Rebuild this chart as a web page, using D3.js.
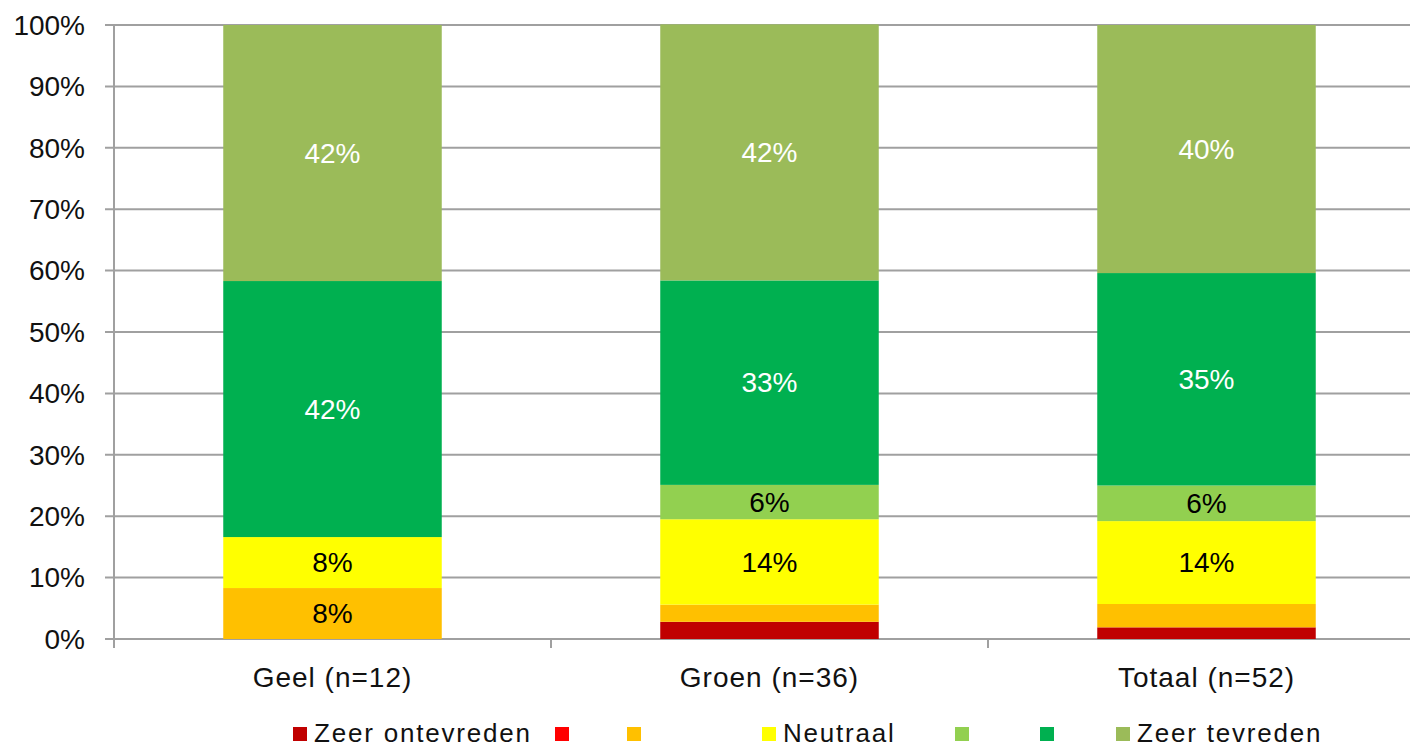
<!DOCTYPE html>
<html>
<head>
<meta charset="utf-8">
<script src="https://cdn.jsdelivr.net/npm/d3@7"></script>
<style>
  html, body { margin: 0; padding: 0; background: #fff; }
  svg { display: block; font-family: "Liberation Sans", Arial, sans-serif; }
</style>
</head>
<body>
<svg id="chart" width="1410" height="750"></svg>
<script>
// Categories (groups) and response levels
const categories = ["Geel (n=12)", "Groen (n=36)", "Totaal (n=52)"];
const seriesNames = ["Zeer ontevreden", "", "", "Neutraal", "", "", "Zeer tevreden"];
const seriesColors = ["#C00000", "#FF0000", "#FFC000", "#FFFF00", "#92D050", "#00B050", "#9BBB59"];
const labelColors = ["#000", "#000", "#000", "#000", "#000", "#fff", "#fff"];

// Percentages per response level, one value per category
const zeerOntevreden = [0, 2.8, 1.9];
const ontevreden     = [0, 0, 0];
const somwatOntevr   = [8.3, 2.8, 3.8];
const neutraal       = [8.3, 13.9, 13.5];
const somwatTevr     = [0, 5.6, 5.8];
const tevreden       = [41.7, 33.3, 34.6];
const zeerTevreden   = [41.7, 41.7, 40.4];

const yTicks = [0, 10, 20, 30, 40, 50, 60, 70, 80, 90, 100];

const seriesValues = [zeerOntevreden, ontevreden, somwatOntevr, neutraal, somwatTevr, tevreden, zeerTevreden];

const rows = categories.map((c, i) => {
  const r = { cat: c };
  seriesValues.forEach((vals, k) => { r["s" + k] = vals[i]; });
  return r;
});
const keys = seriesValues.map((_, k) => "s" + k);
const stacked = d3.stack().keys(keys)(rows);

const FS = 28;
const svg = d3.select("#chart");
const margin = { left: 114, top: 25, bottom: 111 };
const plotW = 1311;
const plotH = 750 - margin.top - margin.bottom;

const x = d3.scaleBand().domain(categories).range([margin.left, margin.left + plotW]).paddingInner(0.5).paddingOuter(0.25);
const y = d3.scaleLinear().domain([0, 100]).range([margin.top + plotH, margin.top]);

// Gridlines
svg.append("g")
  .selectAll("line")
  .data(yTicks)
  .join("line")
  .attr("x1", margin.left - 9)
  .attr("x2", 1410)
  .attr("y1", d => y(d))
  .attr("y2", d => y(d))
  .attr("stroke", "#a0a0a0")
  .attr("stroke-width", 2);

// Y axis labels
svg.append("g")
  .selectAll("text")
  .data(yTicks)
  .join("text")
  .attr("x", 85)
  .attr("y", d => y(d))
  .attr("dy", "0.35em")
  .attr("text-anchor", "end")
  .attr("font-size", FS)
  .attr("fill", "#111")
  .text(d => d + "%");

// Bars
const groups = svg.append("g")
  .selectAll("g")
  .data(stacked)
  .join("g")
  .attr("fill", (d, i) => seriesColors[i]);

groups.selectAll("rect")
  .data(d => d)
  .join("rect")
  .attr("x", d => x(d.data.cat))
  .attr("width", x.bandwidth())
  .attr("y", d => y(d[1]))
  .attr("height", d => y(d[0]) - y(d[1]));

// Segment value labels
stacked.forEach((layer, i) => {
  svg.append("g")
    .selectAll("text")
    .data(layer.filter(d => d[1] - d[0] >= 5))
    .join("text")
    .attr("x", d => x(d.data.cat) + x.bandwidth() / 2)
    .attr("y", d => y((d[0] + d[1]) / 2))
    .attr("dy", "0.35em")
    .attr("text-anchor", "middle")
    .attr("font-size", FS)
    .attr("fill", labelColors[i])
    .text(d => Math.round(d[1] - d[0]) + "%");
});

// Axes lines
svg.append("line")
  .attr("x1", margin.left).attr("x2", margin.left)
  .attr("y1", margin.top).attr("y2", y(0) + 9)
  .attr("stroke", "#a0a0a0").attr("stroke-width", 2);

const step = x.step();
const catTicks = [0, 1, 2, 3].map(i => margin.left + step * i);
svg.append("g")
  .selectAll("line")
  .data(catTicks)
  .join("line")
  .attr("x1", d => d).attr("x2", d => d)
  .attr("y1", y(0)).attr("y2", y(0) + 9)
  .attr("stroke", "#a0a0a0").attr("stroke-width", 2);

// Category labels
svg.append("g")
  .selectAll("text")
  .data(categories)
  .join("text")
  .attr("x", d => x(d) + x.bandwidth() / 2)
  .attr("y", 677)
  .attr("dy", "0.35em")
  .attr("text-anchor", "middle")
  .attr("font-size", FS)
  .attr("letter-spacing", 1)
  .attr("fill", "#111")
  .text(d => d);

// Legend
const legendX = [293, 555, 627, 762, 955, 1040, 1116];
const legend = svg.append("g")
  .selectAll("g")
  .data(seriesNames)
  .join("g")
  .attr("transform", (d, i) => `translate(${legendX[i]},742)`);
legend.append("rect")
  .attr("x", 0).attr("y", -15)
  .attr("width", 14).attr("height", 14)
  .attr("fill", (d, i) => seriesColors[i]);
legend.append("text")
  .attr("x", 21)
  .attr("font-size", 26)
  .attr("letter-spacing", 1.8)
  .attr("fill", "#111")
  .text(d => d);
</script>
</body>
</html>
